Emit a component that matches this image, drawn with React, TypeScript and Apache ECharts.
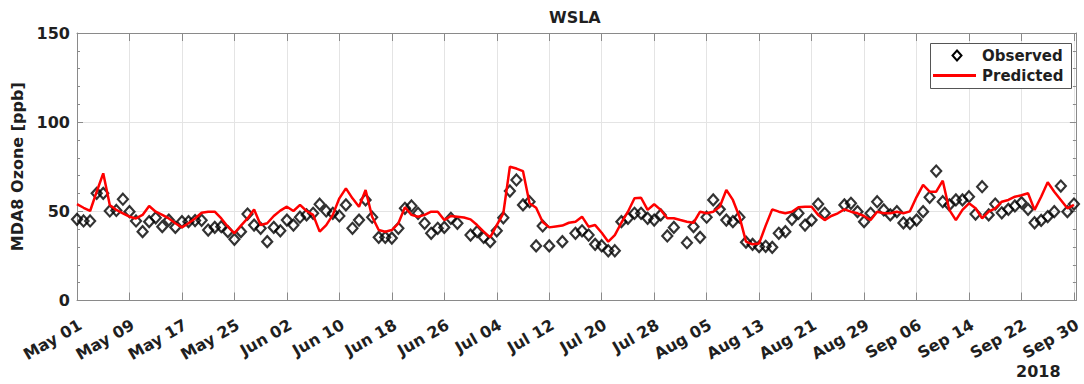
import React, { useEffect, useRef } from "react";
import * as echarts from "echarts";

// Day index 0 = 2018-05-01 ... 152 = 2018-09-30
const tickLabels = [
  "May 01", "May 09", "May 17", "May 25", "Jun 02", "Jun 10", "Jun 18",
  "Jun 26", "Jul 04", "Jul 12", "Jul 20", "Jul 28", "Aug 05", "Aug 13",
  "Aug 21", "Aug 29", "Sep 06", "Sep 14", "Sep 22", "Sep 30",
];

const yTicks = [0, 50, 100, 150];

const observed: (number | null)[] = [
  45.5, 44.6, 44.6, 60.1, 60.1, 50.2, 50.5, 56.8, 49.8, 44.6,
  38.6, 44.2, 46.4, 41.4, 45.1, 41.0, 44.2, 44.2, 44.8, 45.0,
  39.5, 41.0, 41.4, 38.6, 34.3, 38.6, 48.5, 42.3, 40.5, 33.0,
  41.0, 39.1, 45.1, 42.3, 46.7, 48.0, 48.9, 54.0, 50.2, 48.9,
  47.4, 53.6, 40.5, 45.1, 56.4, 46.7, 35.4, 35.4, 35.0, 40.5,
  51.7, 53.0, 48.9, 43.3, 37.7, 40.5, 41.0, 46.1, 43.3, null,
  36.7, 38.6, 35.4, 33.0, 39.1, 46.4, 61.4, 67.6, 53.6, 55.4,
  30.6, 41.8, 30.6, null, 33.0, null, 37.7, 39.1, 36.7, 31.5,
  30.7, 27.9, 27.9, 44.2, 46.1, 48.9, 48.9, 46.1, 45.1, 48.0,
  36.2, 41.0, null, 32.4, 41.4, 35.4, 46.7, 56.4, 51.1, 45.1,
  44.2, 46.7, 32.7, 31.5, 30.2, 30.4, 29.8, 37.7, 38.6, 45.5,
  48.9, 42.3, 45.1, 54.1, 48.9, null, null, 53.6, 54.5, 49.8,
  44.2, 48.9, 55.4, 50.8, 48.0, 49.8, 43.5, 43.3, 45.1, 49.8,
  57.9, 72.6, 55.4, 53.6, 56.4, 56.4, 58.2, 48.5, 63.8, 48.0,
  54.1, 49.2, 51.1, 53.0, 54.9, 51.1, 43.6, 44.9, 47.0, 49.8,
  64.2, 49.8, 54.1,
];

const predicted: number[] = [
  54.0, 52.0, 50.2, 61.0, 71.3, 53.6, 50.8, 48.9, 47.0, 46.0,
  48.0, 53.0, 49.8, 48.0, 46.0, 43.3, 41.0, 43.3, 46.0, 49.2,
  49.8, 49.8, 46.0, 41.4, 37.7, 42.0, 46.0, 51.0, 42.3, 43.3,
  47.4, 50.4, 52.6, 50.2, 53.6, 50.2, 48.0, 38.6, 42.3, 48.0,
  57.3, 62.9, 57.3, 52.6, 62.0, 47.0, 39.5, 38.6, 39.5, 43.3,
  52.3, 48.0, 47.0, 48.0, 49.8, 49.8, 45.1, 47.4, 47.0, 46.5,
  45.5, 42.3, 38.6, 35.4, 42.3, 48.9, 75.0, 74.0, 72.5, 54.5,
  52.0, 44.0, 41.0, 41.5, 42.0, 43.6, 44.2, 47.0, 41.4, 42.3,
  38.0, 33.0, 36.7, 43.6, 49.8, 57.3, 57.6, 50.8, 54.0, 50.8,
  46.1, 46.1, 45.1, 44.2, 43.6, 49.8, 48.9, 49.8, 52.6, 62.0,
  56.4, 47.0, 33.0, 31.5, 32.0, 42.0, 51.1, 49.8, 48.9, 49.8,
  52.3, 52.6, 52.6, 48.0, 45.1, 47.4, 48.9, 51.1, 49.8, 48.9,
  47.4, 45.1, 49.8, 48.9, 48.9, 49.8, 48.9, 50.0, 58.0, 64.8,
  61.0, 61.0, 67.2, 50.8, 45.1, 50.8, 54.5, 51.7, 46.1, 49.8,
  51.7, 55.4, 56.4, 58.2, 59.0, 60.1, 50.8, 58.2, 66.3, 61.0,
  56.4, 51.7, 53.6,
];

const FONT = "DejaVu Sans";
const TEXT = "#1f1f1f";
const FRAME = "#8a8a8a";
const GRIDC = "#e4e4e4";

export default function App() {
  const ref = useRef<HTMLDivElement>(null);
  useEffect(() => {
    if (!ref.current) return;
    const chart = echarts.init(ref.current, undefined, { renderer: "svg" });
    const xMax = 152.3;
    const option: any = {
      animation: false,
      backgroundColor: "#fff",
      grid: { left: 77, right: 6, top: 33, bottom: 83.5, containLabel: false },
      xAxis: [
        {
          type: "value",
          min: 0,
          max: xMax,
          interval: 8,
          position: "bottom",
          axisLine: { show: true, onZero: false, lineStyle: { color: FRAME, width: 1 } },
          axisTick: { show: true, inside: true, length: 8, lineStyle: { color: FRAME } },
          axisLabel: {
            rotate: 30,
            margin: 25,
            padding: [0, -4, 0, 0],
            color: TEXT,
            fontFamily: FONT,
            fontWeight: "bold",
            fontSize: 16,
            formatter: (v: number) =>
              Math.abs(v / 8 - Math.round(v / 8)) < 1e-6 ? tickLabels[Math.round(v / 8)] ?? "" : "",
          },
          splitLine: { show: true, lineStyle: { color: GRIDC, width: 1 } },
        },
        {
          type: "value",
          min: 0,
          max: xMax,
          interval: 8,
          position: "top",
          axisLine: { show: true, onZero: false, lineStyle: { color: FRAME, width: 1 } },
          axisTick: { show: true, inside: true, length: 8, lineStyle: { color: FRAME } },
          axisLabel: { show: false },
          splitLine: { show: false },
        },
      ],
      yAxis: [
        {
          type: "value",
          min: yTicks[0],
          max: yTicks[yTicks.length - 1],
          interval: 50,
          position: "left",
          name: "MDA8 Ozone [ppb]",
          nameLocation: "middle",
          nameGap: 45,
          nameTextStyle: { color: TEXT, fontFamily: FONT, fontWeight: "bold", fontSize: 16 },
          axisLine: { show: true, onZero: false, lineStyle: { color: FRAME, width: 1 } },
          axisTick: { show: true, inside: true, length: 6, lineStyle: { color: FRAME } },
          minorTick: { show: true, splitNumber: 5, length: 3, lineStyle: { color: FRAME } },
          axisLabel: { margin: 7, color: TEXT, fontFamily: FONT, fontWeight: "bold", fontSize: 16 },
          splitLine: { show: true, lineStyle: { color: GRIDC, width: 1 } },
        },
        {
          type: "value",
          min: yTicks[0],
          max: yTicks[yTicks.length - 1],
          interval: 50,
          position: "right",
          axisLine: { show: true, onZero: false, lineStyle: { color: FRAME, width: 1 } },
          axisTick: { show: true, inside: true, length: 6, lineStyle: { color: FRAME } },
          minorTick: { show: true, splitNumber: 5, length: 3, lineStyle: { color: FRAME } },
          axisLabel: { show: false },
          splitLine: { show: false },
        },
      ],
      series: [
        {
          name: "Observed",
          type: "scatter",
          xAxisIndex: 0,
          yAxisIndex: 0,
          symbol: "diamond",
          symbolSize: [10, 11],
          itemStyle: { color: "rgba(0,0,0,0)", borderColor: "#000", borderWidth: 2.2 },
          data: observed.map((v, i) => [i, v]).filter((d) => d[1] !== null),
          z: 2,
        },
        {
          name: "Predicted",
          type: "line",
          xAxisIndex: 0,
          yAxisIndex: 0,
          showSymbol: false,
          lineStyle: { color: "#f00", width: 2.5 },
          data: predicted.map((v, i) => [i, v]),
          z: 3,
        },
      ],
      graphic: [
        {
          type: "text",
          left: 549,
          top: 9,
          style: { text: "WSLA", fill: TEXT, font: `bold 16px "${FONT}"` },
        },
        {
          type: "text",
          left: 1016,
          top: 363,
          style: { text: "2018", fill: TEXT, font: `bold 16px "${FONT}"` },
        },
        {
          type: "group",
          children: [
            {
              type: "rect",
              shape: { x: 930.5, y: 43.5, width: 141, height: 45 },
              style: { fill: "#fff", stroke: "#555", lineWidth: 1 },
              z: 10,
            },
            {
              type: "polygon",
              shape: { points: [[957, 50.5], [961.5, 55.5], [957, 60.5], [952.5, 55.5]] },
              style: { fill: "none", stroke: "#000", lineWidth: 2 },
              z: 11,
            },
            {
              type: "line",
              shape: { x1: 933, y1: 75.5, x2: 976, y2: 75.5 },
              style: { stroke: "#f00", lineWidth: 3 },
              z: 11,
            },
            {
              type: "text",
              x: 982,
              y: 55.5,
              style: { text: "Observed", fill: TEXT, font: `bold 15px "${FONT}"`, verticalAlign: "middle" },
              z: 11,
            },
            {
              type: "text",
              x: 982,
              y: 75.5,
              style: { text: "Predicted", fill: TEXT, font: `bold 15px "${FONT}"`, verticalAlign: "middle" },
              z: 11,
            },
          ],
        },
      ],
    };
    chart.setOption(option);
    return () => chart.dispose();
  }, []);
  return (
    <div
      ref={ref}
      style={{ position: "fixed", left: 0, top: 0, width: 1084, height: 384, background: "#fff" }}
    />
  );
}
